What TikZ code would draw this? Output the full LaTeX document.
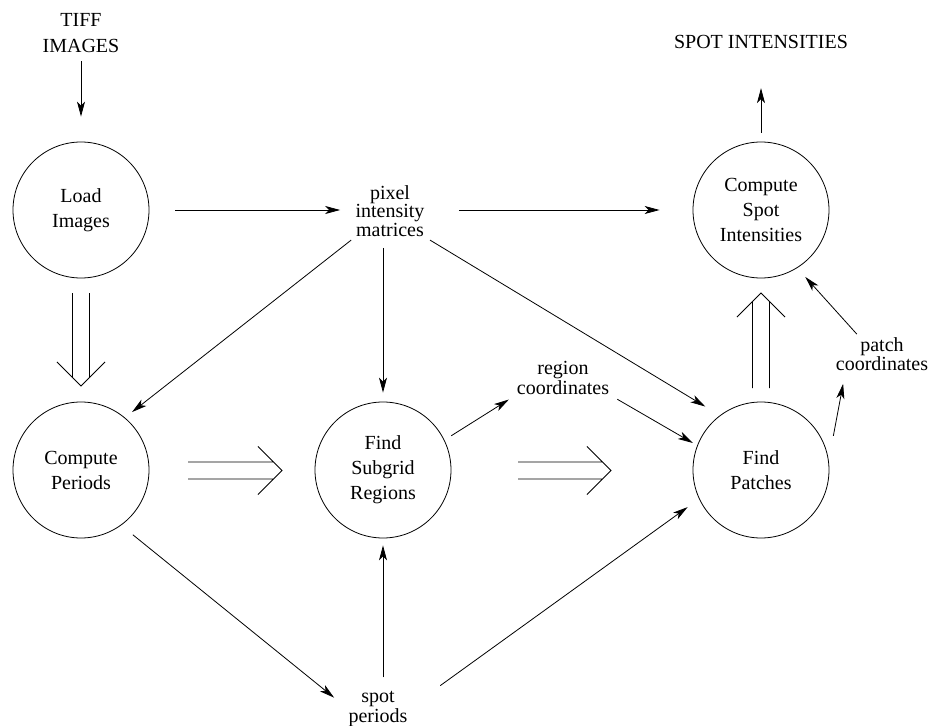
\documentclass[tikz,border=0pt]{standalone}
\usepackage{fontspec}
\setmainfont{Liberation Serif}
\usetikzlibrary{arrows.meta,calc}

\begin{document}
\begin{tikzpicture}[
  x=1pt, y=-1pt, line width=0.8pt,
  proc/.style={draw, circle, minimum size=136pt, inner sep=0pt, align=center, font=\fontsize{20}{25}\selectfont},
  data/.style={inner sep=0pt, align=center, font=\fontsize{20}{16.5}\selectfont},
  flow/.style={-{Stealth[length=15pt,width=8pt,inset=4pt]}},
  fat/.style={to path={
    ($(\tikztostart)!8.5pt!90:(\tikztotarget)$) -- ($(\tikztotarget)!12pt!-45:(\tikztostart)$)
    ($(\tikztostart)!8.5pt!-90:(\tikztotarget)$) -- ($(\tikztotarget)!12pt!45:(\tikztostart)$)
    ($(\tikztotarget)!34pt!-45:(\tikztostart)$) -- (\tikztotarget) -- ($(\tikztotarget)!34pt!45:(\tikztostart)$)}}
]
\useasboundingbox (0,0) rectangle (930,726);

% processes
\node[proc] (load) at (81,210) {Load\\Images};
\node[proc] (periods) at (81,470) {Compute\\Periods};
\node[proc] (subgrid) at (383,470) {Find\\Subgrid\\Regions};
\node[proc] (patches) at (761,470) {Find\\Patches};
\node[proc] (spotint) at (761,210) {Compute\\Spot\\Intensities};

% data
\node[data, font=\fontsize{20}{26}\selectfont] (tiff) at (81,33) {TIFF\\IMAGES};
\node[data] (spotout) at (761,42) {SPOT INTENSITIES};
\node[data] (matrices) at (390,211) {pixel\\intensity\\matrices};
\node[data] (regcoord) at (563,378) {region\\coordinates};
\node[data] (patchcoord) at (882,354) {patch\\coordinates};
\node[data, font=\fontsize{20}{14}\selectfont] (spotper) at (378,709) {spot\\periods};

% data flow
\draw[flow, shorten <=8pt, shorten >=25pt] (tiff) -- (load);
\draw[flow, shorten <=26pt, shorten >=15pt] (load) -- (load -| matrices.west);
\draw[flow, shorten <=34pt, shorten >=33pt] (matrices.east |- spotint) -- (spotint);
\draw[flow, shorten <=5pt, shorten >=9pt] (matrices.south west) -- (periods.50);
\draw[flow, shorten <=11pt, shorten >=9pt] (matrices.south -| subgrid) -- (subgrid);
\draw[flow, shorten <=6pt, shorten >=17pt] (matrices.south east) -- (patches.127);
\draw[flow, shorten <=8pt, shorten >=9pt] (subgrid.26) -- (regcoord.south west);
\draw[flow, shorten <=9pt, shorten >=5pt] (regcoord.south east) -- (patches.159);
\draw[flow, shorten <=25pt, shorten >=13pt] (patches.8) -- (patchcoord.205);
\draw[flow, shorten <=4pt, shorten >=12pt] (patchcoord.143) -- (spotint.302);
\draw[flow, shorten <=9pt, shorten >=39pt] (spotint) -- (spotout);
\draw[flow, shorten <=15pt, shorten >=18pt] (periods.306) -- (spotper.west);
\draw[flow, shorten <=14pt, shorten >=7pt] (spotper.north -| subgrid) -- (subgrid);
\draw[flow, shorten <=40pt, shorten >=14pt] (spotper.east) -- (patches.205);

% control flow
\coordinate (fatA0) at (81,293);    \coordinate (fatA1) at (81,386);
\coordinate (fatB0) at (188,470.5); \coordinate (fatB1) at (282,470.5);
\coordinate (fatC0) at (518,470.5); \coordinate (fatC1) at (611,470.5);
\coordinate (fatD0) at (761,388);   \coordinate (fatD1) at (761,293);
\draw[fat] (fatA0) to (fatA1);
\draw[fat] (fatB0) to (fatB1);
\draw[fat] (fatC0) to (fatC1);
\draw[fat] (fatD0) to (fatD1);
\end{tikzpicture}
\end{document}
